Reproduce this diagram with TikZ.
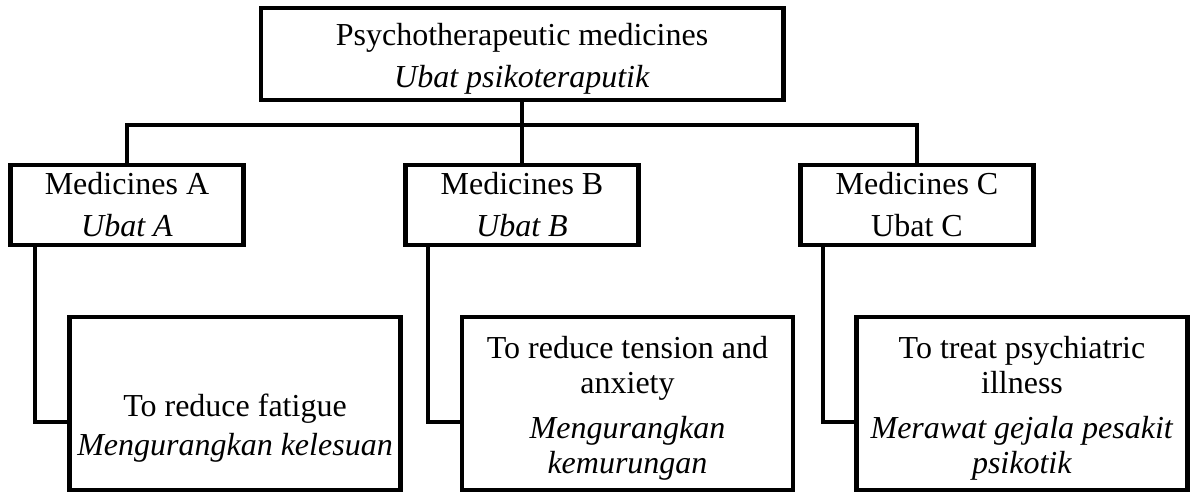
\documentclass[tikz,border=0pt]{standalone}
\usepackage{fontspec}
\setmainfont{Liberation Serif}
\begin{document}
\begin{tikzpicture}[x=0.5pt,y=-0.5pt,
  box/.style={draw, line width=2.25pt, align=center, inner sep=0pt,
    font=\fontsize{16}{17.5}\selectfont},
  topbox/.style={box, minimum width=261.25pt, minimum height=46pt},
  midbox/.style={box, minimum width=116.5pt, minimum height=40pt},
  lowbox/.style={box, minimum width=165.5pt, minimum height=86.5pt},
  conn/.style={line width=2.25pt}]
\useasboundingbox (0,0) rectangle (1191,494);
\node[topbox] (top) at (522,54) {\rule{0pt}{16pt}Psychotherapeutic medicines\\[3.5pt]\textit{Ubat psikoteraputik}};
\node[midbox] (A) at (127,205) {Medicines A\\[3.5pt]\textit{Ubat A}};
\node[midbox] (B) at (522,205) {Medicines B\\[3.5pt]\textit{Ubat B}};
\node[midbox] (C) at (917,205) {Medicines C\\[3.5pt]Ubat C};
\node[lowbox] (D) at (235,403.5) {\mbox{}\\[18.5pt]To reduce fatigue\\[2pt]\textit{Mengurangkan kelesuan}};
\node[lowbox] (E) at (627.5,403.5) {\rule{0pt}{16pt}To reduce tension and\\anxiety\\[5pt]\textit{Mengurangkan}\\\textit{kemurungan}};
\node[lowbox] (F) at (1022,403.5) {\rule{0pt}{16pt}To treat psychiatric\\illness\\[5pt]\textit{Merawat gejala pesakit}\\\textit{psikotik}};
\coordinate (bus) at (522,125);
\coordinate (ea) at (35,422);
\coordinate (eb) at (428,422);
\coordinate (ec) at (823,422);
\draw[conn] (top.south) -- (B.north);
\draw[conn] (A.north) |- (bus) -| (C.north);
\draw[conn] (A.south -| ea) |- (D.west |- ea);
\draw[conn] (B.south -| eb) |- (E.west |- eb);
\draw[conn] (C.south -| ec) |- (F.west |- ec);
\end{tikzpicture}
\end{document}
